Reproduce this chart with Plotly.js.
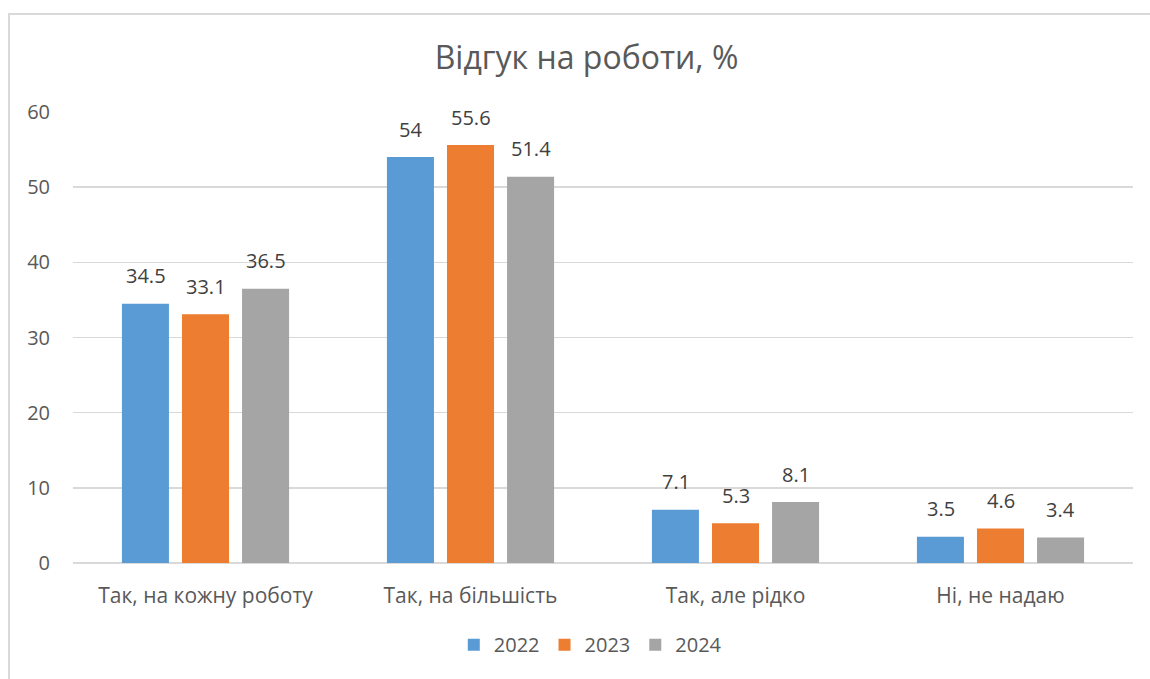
<!DOCTYPE html>
<html>
<head>
<meta charset="utf-8">
<script src="https://cdn.plot.ly/plotly-3.0.1.min.js"></script>
<style>
html,body{margin:0;padding:0;background:#fff;}
#wrap{position:relative;width:1150px;height:679px;}
#chart{position:absolute;left:0;top:0;width:1150px;height:679px;}
#frame{position:absolute;left:8px;top:13px;right:0;bottom:0;border-left:2px solid #d9d9d9;border-top:2px solid #d9d9d9;pointer-events:none;}
</style>
</head>
<body>
<div id="wrap"><div id="chart"></div><div id="frame"></div></div>
<script>
const categories = ["Так, на кожну роботу", "Так, на більшість", "Так, але рідко", "Ні, не надаю"];
const seriesNames = ["2022", "2023", "2024"];
const values2022 = [34.5, 54, 7.1, 3.5];
const values2023 = [33.1, 55.6, 5.3, 4.6];
const values2024 = [36.5, 51.4, 8.1, 3.4];
const colors = ["#5b9bd5", "#ed7d31", "#a5a5a5"];
const yTicks = [0, 10, 20, 30, 40, 50, 60];

const FONT = "'Open Sans', sans-serif";
const allValues = [values2022, values2023, values2024];
const traces = allValues.map((vals, i) => ({
  type: 'bar',
  name: seriesNames[i],
  x: categories,
  y: vals,
  marker: {color: colors[i]},
  hoverinfo: 'x+y+name'
}));

// data labels placed above each bar through the axis scales
const annotations = [];
allValues.forEach((vals, i) => {
  vals.forEach((v, j) => {
    annotations.push({
      x: categories[j], y: v, xref: 'x', yref: 'y',
      text: String(v), showarrow: false,
      xshift: (i - 1) * 60, yshift: 28,
      xanchor: 'center', yanchor: 'middle',
      font: {family: FONT, size: 20, color: '#404040'}
    });
  });
});

const layout = {
  width: 1150, height: 679,
  margin: {l: 73, r: 17, t: 112, b: 116},
  paper_bgcolor: 'rgba(0,0,0,0)',
  plot_bgcolor: '#fff',
  font: {family: FONT, color: '#595959', size: 20},
  title: {text: 'Відгук на роботи, %', font: {family: FONT, size: 32, color: '#595959'}, x: 0.51, xanchor: 'center', y: 0.915, yanchor: 'middle'},
  barmode: 'group',
  bargap: 0.32,
  bargroupgap: 0.217,
  xaxis: {
    showgrid: false, zeroline: false, showline: false,
    ticks: '', tickfont: {family: FONT, size: 21, color: '#595959'},
    ticklabelstandoff: 18
  },
  yaxis: {
    range: [0, 60], tickvals: yTicks, ticktext: yTicks.map(String),
    showgrid: true, gridcolor: '#d9d9d9', gridwidth: 1.5,
    zeroline: true, zerolinecolor: '#d9d9d9', zerolinewidth: 1.5,
    showline: false, ticks: '',
    tickfont: {family: FONT, size: 20, color: '#595959'},
    ticklabelstandoff: 22
  },
  legend: {
    orientation: 'h', x: 0.488, xanchor: 'center', y: -0.181, yanchor: 'middle',
    font: {family: FONT, size: 20, color: '#595959'},
    itemwidth: 30, traceorder: 'normal'
  },
  annotations: annotations,
  showlegend: true
};

Plotly.newPlot('chart', traces, layout, {displayModeBar: false, staticPlot: true});
</script>
</body>
</html>
